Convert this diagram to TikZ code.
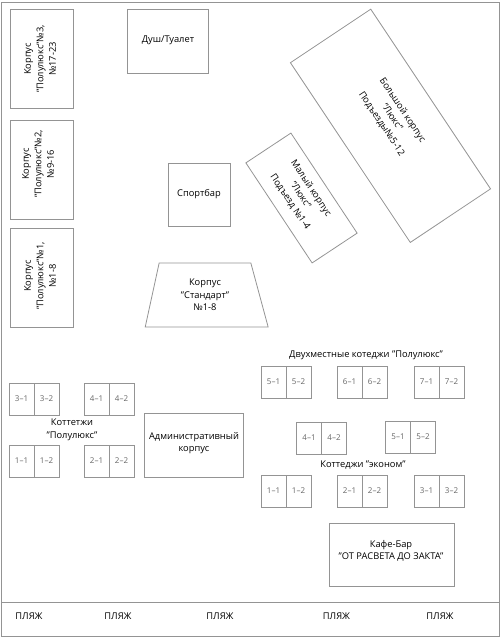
\documentclass[tikz,border=0pt]{standalone}
\usepackage{fontspec}
\setmainfont{Open Sans}
\usetikzlibrary{positioning,shapes.geometric}

\begin{document}
\begin{tikzpicture}[x=1pt,y=-1pt,node distance=25pt,on grid,
line width=0.8pt,
house/.style={rectangle,draw=black!42,inner sep=0pt,outer sep=0pt,align=center,font=\fontsize{9.3}{12.5}\selectfont,text=black},
cell/.style={rectangle,draw=black!42,inner sep=0pt,outer sep=0pt,minimum width=25pt,minimum height=32pt,font=\fontsize{8}{9}\selectfont,text=black!60},
caption/.style={inner sep=0pt,align=center,font=\fontsize{9.3}{12.5}\selectfont,text=black}]
\useasboundingbox (0,0) rectangle (500,640);
\node[house,minimum width=498pt,minimum height=634pt] (Site) at (250,319) {};
\coordinate (BeachLeft) at (1,602);
\coordinate (BeachRight) at (499,602);
\draw[draw=black!42] (BeachLeft) -- (BeachRight);

\node[house,minimum width=63pt,minimum height=99pt] (Semi3) at (41.5,58.5) {};
\node[house,minimum width=63pt,minimum height=99pt] (Semi2) at (41.5,169.5) {};
\node[house,minimum width=63pt,minimum height=99pt] (Semi1) at (41.5,277.5) {};
\node[caption,rotate=90] (Semi3Text) at (40,59) {Корпус\\"Полулюкс"№3,\\№17-23};
\node[caption,rotate=90] (Semi2Text) at (38,164) {Корпус\\"Полулюкс"№2,\\№9-16};
\node[caption,rotate=90] (Semi1Text) at (40,276) {Корпус\\"Полулюкс"№1,\\№1-8};

\node[house,minimum width=81pt,minimum height=64pt] (Shower) at (167.5,41) {};
\node[caption] (ShowerText) at (168,40) {Душ/Туалет};
\node[house,minimum width=62pt,minimum height=63pt] (Sportbar) at (199,194.5) {Спортбар};
\node[house,trapezium,trapezium stretches=true,trapezium left angle=77,trapezium right angle=74,minimum width=123.5pt,minimum height=64pt] (Standard) at (205,295) {Корпус\\"Стандарт"\\№1-8};

\node[house,rotate=-56.3,minimum width=216pt,minimum height=96.5pt] (BigLux) at (390.5,125.8) {};
\node[caption,rotate=-56.3] (BigLuxText) at (392,117) {Большой корпус\\"Люкс"\\Подъезды№5-12};
\node[house,rotate=-56.5,minimum width=120pt,minimum height=54pt] (SmallLux) at (301.5,198) {};
\node[caption,rotate=-56.5] (SmallLuxText) at (300.5,195) {Малый корпус\\"Люкс"\\Подъезд №1-4};

\node[cell] (Pair31) at (21.5,399) {3–1};
\node[cell] (Pair32) [right=of Pair31] {3–2};
\node[cell] (Pair41) at (96.5,399) {4–1};
\node[cell] (Pair42) [right=of Pair41] {4–2};
\node[cell] (Pair11) at (21.5,461) {1–1};
\node[cell] (Pair12) [right=of Pair11] {1–2};
\node[cell] (Pair21) at (96.5,461) {2–1};
\node[cell] (Pair22) [right=of Pair21] {2–2};
\node[caption] (SemiCottages) at (72,430) {Коттетжи\\"Полулюкс"};
\node[house,minimum width=99pt,minimum height=63.5pt] (Admin) at (194,445.2) {};
\node[caption] (AdminText) at (194,443) {Административный\\корпус};

\node[caption] (DoubleCottages) at (366,355) {Двухместные котеджи "Полулюкс"};
\node[cell] (Double51) at (273.5,382) {5–1};
\node[cell] (Double52) [right=of Double51] {5–2};
\node[cell] (Double61) at (349.5,382) {6–1};
\node[cell] (Double62) [right=of Double61] {6–2};
\node[cell] (Double71) at (426.5,382) {7–1};
\node[cell] (Double72) [right=of Double71] {7–2};
\node[cell] (Econ41) at (309,438) {4–1};
\node[cell] (Econ42) [right=of Econ41] {4–2};
\node[cell] (Econ51) at (398,437) {5–1};
\node[cell] (Econ52) [right=of Econ51] {5–2};
\node[caption] (EconCottages) at (363,465) {Коттеджи "эконом"};
\node[cell] (Econ11) at (273.5,491) {1–1};
\node[cell] (Econ12) [right=of Econ11] {1–2};
\node[cell] (Econ21) at (349.5,491) {2–1};
\node[cell] (Econ22) [right=of Econ21] {2–2};
\node[cell] (Econ31) at (426.5,491) {3–1};
\node[cell] (Econ32) [right=of Econ31] {3–2};

\node[house,minimum width=125.5pt,minimum height=63pt] (Cafe) at (391.7,554.5) {};
\node[caption] (CafeText) at (391,551) {Кафе-Бар\\"ОТ РАСВЕТА ДО ЗАКТА"};

\node[caption] (Beach1) at (29,616) {ПЛЯЖ};
\node[caption] (Beach2) at (118,616) {ПЛЯЖ};
\node[caption] (Beach3) at (220,616) {ПЛЯЖ};
\node[caption] (Beach4) at (336.5,616) {ПЛЯЖ};
\node[caption] (Beach5) at (440,616) {ПЛЯЖ};
\end{tikzpicture}
\end{document}
